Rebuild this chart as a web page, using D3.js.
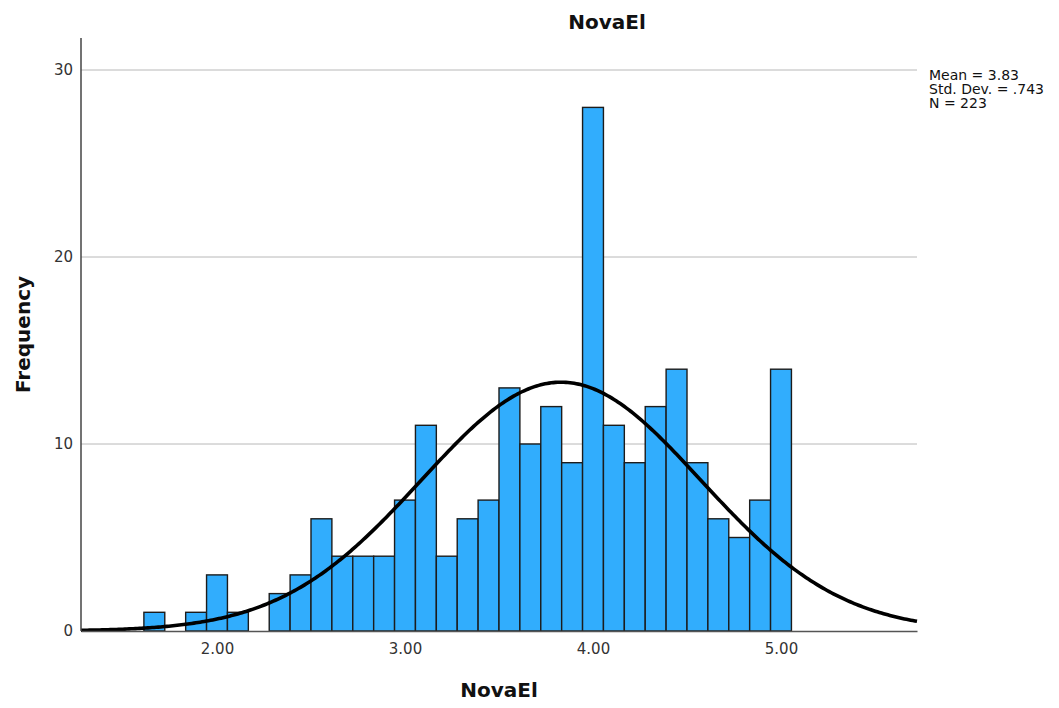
<!DOCTYPE html>
<html>
<head>
<meta charset="utf-8">
<script src="https://cdn.jsdelivr.net/npm/d3@7"></script>
<style>
  body { margin: 0; background: #fff; }
  svg { display: block; font-family: "DejaVu Sans", sans-serif; }
</style>
</head>
<body>
<div id="chart"></div>
<script>
const binCenters = d3.range(15, 46).map(k => k / 9);
const counts = [1, 0, 1, 3, 1, 0, 2, 3, 6, 4, 4, 4, 7, 11, 4, 6, 7, 13, 10, 12, 9, 28, 11, 9, 12, 14, 9, 6, 5, 7, 14];
const binWidth = 1 / 9;

const xTicks = [2, 3, 4, 5];
const yTicks = [0, 10, 20, 30];
const statLines = ["Mean = 3.83", "Std. Dev. = .743", "N = 223"];
const mean = 3.83, sd = 0.743, n = 223;

const width = 1059, height = 708;
const plotLeft = 81, plotRight = 917, plotTop = 38, plotBottom = 631;

const svg = d3.select("#chart").append("svg")
  .attr("width", width)
  .attr("height", height);

const x = d3.scaleLinear()
  .domain([2 - 136 / 188, 5 + 136 / 188])
  .range([plotLeft, plotRight]);

const y = d3.scaleLinear()
  .domain([0, 30])
  .range([plotBottom, plotBottom - 561]);

// grid lines
svg.append("g")
  .selectAll("line")
  .data(yTicks.filter(d => d > 0))
  .enter().append("line")
  .attr("x1", plotLeft).attr("x2", plotRight)
  .attr("y1", d => y(d)).attr("y2", d => y(d))
  .attr("stroke", "#b8b8b8")
  .attr("stroke-width", 1);

// bars
svg.append("g")
  .selectAll("rect")
  .data(binCenters.map((c, i) => ({ c: c, v: counts[i] })).filter(d => d.v > 0))
  .enter().append("rect")
  .attr("x", d => x(d.c - binWidth / 2))
  .attr("width", d => x(d.c + binWidth / 2) - x(d.c - binWidth / 2))
  .attr("y", d => y(d.v))
  .attr("height", d => y(0) - y(d.v))
  .attr("fill", "#31adfd")
  .attr("stroke", "#1c1c1c")
  .attr("stroke-width", 1.4);

// normal curve from the stats shown in the chart
const dens = v => n * binWidth * Math.exp(-0.5 * ((v - mean) / sd) ** 2) / (sd * Math.sqrt(2 * Math.PI));
const xs = d3.range(0, 401).map(i => x.domain()[0] + i * (x.domain()[1] - x.domain()[0]) / 400);
svg.append("path")
  .datum(xs)
  .attr("fill", "none")
  .attr("stroke", "#000")
  .attr("stroke-width", 3.6)
  .attr("d", d3.line().x(d => x(d)).y(d => y(dens(d))));

// axes
const yAxis = svg.append("g")
  .attr("transform", "translate(" + plotLeft + ",0)")
  .call(d3.axisLeft(y).tickValues(yTicks).tickSize(0).tickPadding(8));
yAxis.select(".domain").attr("d", "M0," + plotTop + "V" + plotBottom)
  .attr("stroke", "#444").attr("stroke-width", 1.5);

const xAxis = svg.append("g")
  .attr("transform", "translate(0," + plotBottom + ")")
  .call(d3.axisBottom(x).tickValues(xTicks).tickSize(0).tickPadding(12).tickFormat(d3.format(".2f")));
xAxis.select(".domain").attr("stroke", "#555").attr("stroke-width", 1.5);

svg.selectAll(".tick text")
  .attr("font-family", "DejaVu Sans, sans-serif")
  .attr("font-size", 15)
  .attr("fill", "#333");

// titles
svg.append("text")
  .attr("x", 607).attr("y", 29)
  .attr("text-anchor", "middle")
  .attr("font-size", 20).attr("font-weight", "bold")
  .attr("fill", "#111")
  .text("NovaEl");

svg.append("text")
  .attr("x", (plotLeft + plotRight) / 2).attr("y", 697)
  .attr("text-anchor", "middle")
  .attr("font-size", 20).attr("font-weight", "bold")
  .attr("fill", "#111")
  .text("NovaEl");

svg.append("text")
  .attr("transform", "translate(30," + (plotTop + plotBottom) / 2 + ") rotate(-90)")
  .attr("text-anchor", "middle")
  .attr("font-size", 20).attr("font-weight", "bold")
  .attr("fill", "#111")
  .text("Frequency");

// stats box
svg.append("g")
  .selectAll("text")
  .data(statLines)
  .enter().append("text")
  .attr("x", 929)
  .attr("y", (d, i) => 80 + i * 14)
  .attr("font-size", 14)
  .attr("fill", "#111")
  .text(d => d);
</script>
</body>
</html>
